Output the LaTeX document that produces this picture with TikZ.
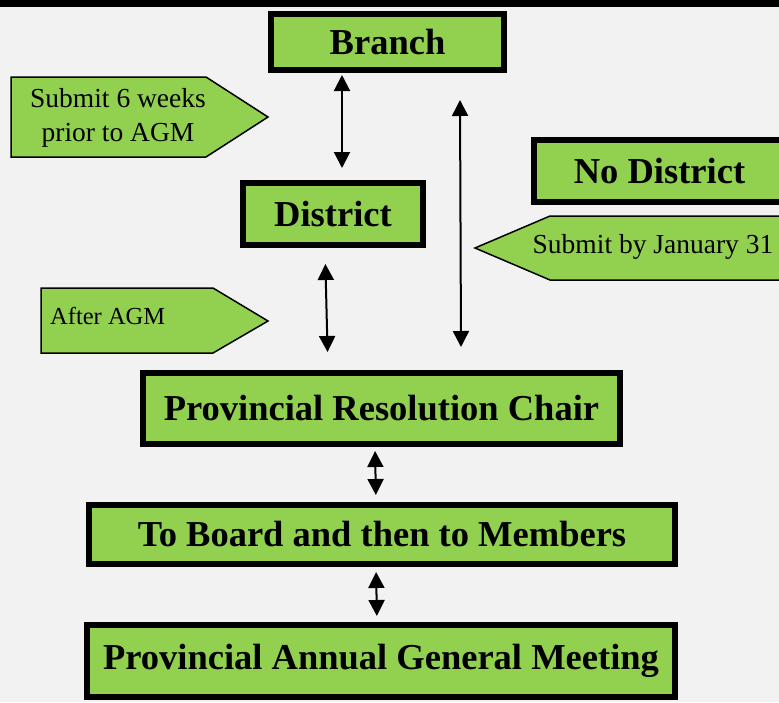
\documentclass[tikz,border=0pt]{standalone}
\usepackage{fontspec}
\setmainfont{Liberation Serif}
\usepackage{tikz}
\usetikzlibrary{positioning}
\usetikzlibrary{arrows.meta}
\definecolor{mygreen}{RGB}{146,208,80}
\definecolor{mygray}{RGB}{242,242,242}

\begin{document}
\begin{tikzpicture}[x=1pt, y=-1pt,
    box/.style={draw=black, line width=6pt, fill=mygreen, inner sep=0pt,
      font=\fontsize{36.5}{40}\selectfont\bfseries},
    link/.style={line width=2pt,
      {Triangle[width=16pt,length=16pt]}-{Triangle[width=16pt,length=16pt]}},
    tag/.style={draw=black, line width=1.5pt, fill=mygreen}]
    \useasboundingbox (0,0) rectangle (779,702);
    \clip (0,0) rectangle (779,702);
    \fill[mygray] (0,0) rectangle (779,702);
    \fill[black] (0,0) rectangle (779,7);

    \node[box, minimum width=233pt, minimum height=56pt] (B) at (387.5,42) {Branch};
    \node[box, minimum width=180pt, minimum height=62pt] (D) at (333,214) {District};
    \node[box, minimum width=251pt, minimum height=62pt] (ND) at (659.5,171) {No District};
    \node[box, minimum width=477pt, minimum height=71pt] (PRC) at (381.5,408.5) {Provincial Resolution Chair};
    \node[box, minimum width=586pt, minimum height=59pt] (TB) at (382,534.5) {To Board and then to Members};
    \node[box, minimum width=588pt, minimum height=72pt] (AGM) at (381,661) {Provincial Annual General Meeting};

    \draw[tag] (11,77) -- (206,77) -- (268,117) -- (206,157) -- (11,157) -- cycle;
    \node[align=center, inner sep=0pt, font=\fontsize{27.5}{34.5}\selectfont] (S6) at (118,118) {Submit 6 weeks\\prior to AGM};
    \draw[tag] (41,288) -- (213,288) -- (268,321) -- (213,353) -- (41,353) -- cycle;
    \node[anchor=west, inner sep=0pt, font=\fontsize{24.5}{29}\selectfont] (AA) at (50,316) {After AGM};
    \draw[tag] (800,216) -- (550,216) -- (475,248) -- (550,280) -- (800,280) -- cycle;
    \node[inner sep=0pt, font=\fontsize{27.5}{33}\selectfont] (SJ) at (653,246.5) {Submit by January 31};

    \coordinate (t1) at (460,100);
    \coordinate (t2) at (461,347);

    \draw[link, shorten <=2pt, shorten >=12pt] (B.south -| 342,0) -- (D.north -| 342,0);
    \draw[link, shorten <=16pt, shorten >=18pt] (D.south -| 325,0) -- (PRC.north -| 328,0);
    \draw[link] (t1) -- (t2);
    \draw[link, shorten <=4pt, shorten >=7pt] (PRC.south -| 375,0) -- (TB.north -| 376,0);
    \draw[link, shorten <=5pt, shorten >=6pt] (TB.south -| 376,0) -- (AGM.north -| 377,0);
\end{tikzpicture}
\end{document}
